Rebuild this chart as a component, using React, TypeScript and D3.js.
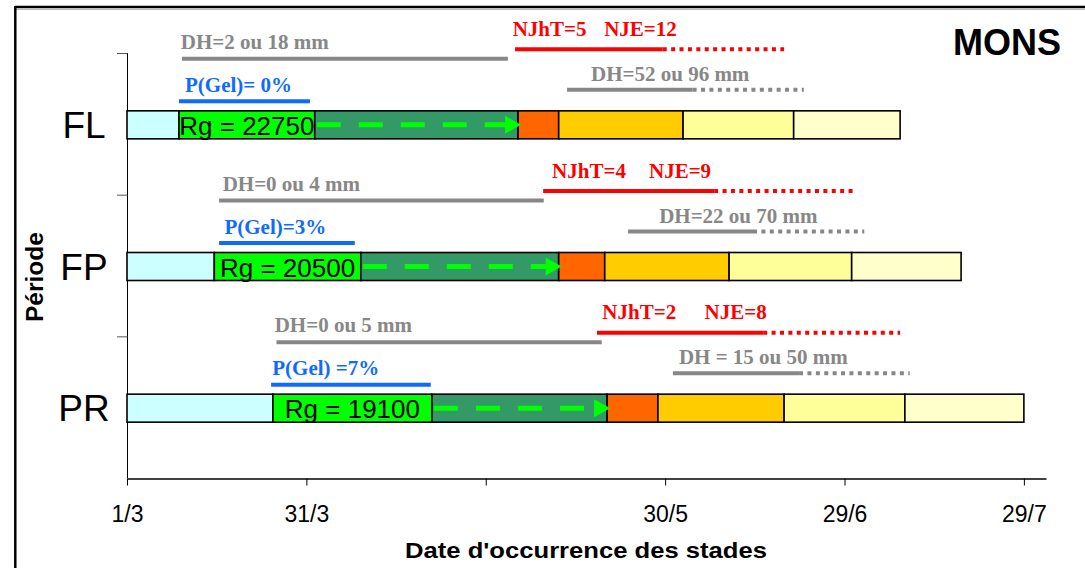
import React, { useEffect, useRef } from 'react';
import * as d3 from 'd3';

// days counted from 1 March
const periods = ['FL', 'FP', 'PR'];
const stageBounds = [
  [0, 8.7, 31.4, 65.4, 72.2, 93.0, 111.5, 129.3],
  [0, 14.6, 39.1, 72.2, 79.9, 100.7, 121.2, 139.5],
  [0, 24.4, 51.0, 80.3, 88.8, 109.9, 130.1, 150],
];
const stageColors = ['#CCFFFF', '#00FF00', '#339966', '#FF6600', '#FFCC00', '#FFFF99', '#FFFFCC'];
const rgValues = [22750, 20500, 19100];

const dh1Labels = ['DH=2 ou 18 mm', 'DH=0 ou 4 mm', 'DH=0 ou 5 mm'];
const dh1Spans = [[9.2, 63.7], [15.4, 69.7], [25.0, 79.4]];
const dh1LabelDay = [9.0, 16.0, 24.7];

const pGelLabels = ['P(Gel)= 0%', 'P(Gel)=3%', 'P(Gel) =7%'];
const pGelSpans = [[8.7, 30.6], [15.4, 38.1], [24.1, 50.8]];
const pGelLabelDay = [9.7, 16.3, 24.3];

const njhtLabels = ['NJhT=5', 'NJhT=4', 'NJhT=2'];
const njeLabels = ['NJE=12', 'NJE=9', 'NJE=8'];
const njSpans = [[64.9, 89.6, 109.9], [69.6, 98.2, 121.7], [78.6, 106.4, 129.3]];
const njhtLabelDay = [64.5, 71.1, 79.5];
const njeLabelDay = [79.8, 87.3, 96.6];

const dh2Labels = ['DH=52 ou 96 mm', 'DH=22 ou 70 mm', 'DH = 15 ou 50 mm'];
const dh2Spans = [[73.6, 94.6, 113.2], [83.8, 104.7, 123.3], [91.3, 112.4, 130.9]];
const dh2LabelDay = [77.6, 89.0, 92.3];

const tickDays = [0, 30, 60, 90, 120, 150];
const tickLabels = ['1/3', '31/3', '', '30/5', '29/6', '29/7'];

const W = 1085;
const H = 568;
const SERIF = '"Liberation Serif", "Times New Roman", serif';
const SANS = '"Liberation Sans", Arial, sans-serif';
const GRAY = '#878787';
const BLUE = '#0F6BFF';
const RED = '#FF0000';

export default function App() {
  const svgRef = useRef<SVGSVGElement>(null);

  useEffect(() => {
    if (!svgRef.current) return;
    const svg = d3.select(svgRef.current);
    svg.selectAll('*').remove();

    const x = d3.scaleLinear().domain([0, 153.7]).range([127, 1046]);
    const y = d3.scaleBand<string>().domain(periods).range([53, 478]).padding(0);
    const barH = 28;
    const cy = (p: string) => (y(p) as number) + y.bandwidth() / 2 + 1;

    svg.append('rect').attr('width', W).attr('height', H).attr('fill', '#fff');

    // outer frame
    svg.append('line').attr('x1', 15).attr('x2', W).attr('y1', 7).attr('y2', 7)
      .attr('stroke', '#000').attr('stroke-width', 2.5);
    svg.append('line').attr('x1', 15).attr('x2', W).attr('y1', 9.5).attr('y2', 9.5)
      .attr('stroke', '#bbb').attr('stroke-width', 1);
    svg.append('line').attr('x1', 15.3).attr('x2', 15.3).attr('y1', 6).attr('y2', H)
      .attr('stroke', '#000').attr('stroke-width', 2.5);

    // y axis
    svg.append('line').attr('x1', 127.5).attr('x2', 127.5).attr('y1', 53).attr('y2', 478)
      .attr('stroke', '#000').attr('stroke-width', 1);
    periods.forEach(p => {
      const yy = (y(p) as number) + 0.5;
      svg.append('line').attr('x1', 117).attr('x2', 127.5).attr('y1', yy).attr('y2', yy)
        .attr('stroke', '#555').attr('stroke-width', 1);
    });

    // x axis
    const ax = svg.append('g').attr('transform', 'translate(0,478.5)')
      .call(d3.axisBottom(x).tickValues(tickDays)
        .tickFormat((d, i) => tickLabels[i]).tickSize(7).tickSizeOuter(0).tickPadding(20));
    ax.select('.domain').attr('stroke', '#000').attr('stroke-width', 1.5);
    ax.selectAll('.tick line').attr('stroke', '#000');
    ax.selectAll('.tick text').attr('font-family', SANS).attr('font-size', 23).attr('fill', '#000');

    svg.append('text').attr('x', 586).attr('y', 558).attr('text-anchor', 'middle')
      .attr('font-family', SANS).attr('font-weight', 'bold').attr('font-size', 22)
      .attr('textLength', 362).attr('lengthAdjust', 'spacingAndGlyphs')
      .text("Date d'occurrence des stades");

    svg.append('text').attr('transform', 'translate(43,277) rotate(-90)').attr('text-anchor', 'middle')
      .attr('font-family', SANS).attr('font-weight', 'bold').attr('font-size', 23)
      .attr('textLength', 90).attr('lengthAdjust', 'spacingAndGlyphs')
      .text('Période');

    svg.append('text').attr('x', 1061).attr('y', 55).attr('text-anchor', 'end')
      .attr('font-family', SANS).attr('font-weight', 'bold').attr('font-size', 36)
      .text('MONS');

    periods.forEach((p, i) => {
      const c = cy(p);
      const g = svg.append('g');

      // period label
      g.append('text').attr('x', 84).attr('y', c + 13).attr('text-anchor', 'middle')
        .attr('font-family', SANS).attr('font-size', 37).text(p);

      // stage bar
      const b = stageBounds[i];
      g.selectAll('rect.stage')
        .data(d3.pairs(b))
        .join('rect')
        .attr('class', 'stage')
        .attr('x', d => x(d[0]))
        .attr('y', c - barH / 2)
        .attr('width', d => x(d[1]) - x(d[0]))
        .attr('height', barH)
        .attr('fill', (d, k) => stageColors[k])
        .attr('stroke', '#000')
        .attr('stroke-width', 1.6);

      g.append('text')
        .attr('x', (x(b[1]) + x(b[2])) / 2).attr('y', c + 10)
        .attr('text-anchor', 'middle').attr('font-family', SANS).attr('font-size', 26)
        .text(`Rg = ${rgValues[i]}`);

      // dashed green arrow
      const ax0 = x(b[2]) + 2;
      const tip = x(b[3]) + 3;
      g.append('line').attr('x1', ax0).attr('x2', tip - 15).attr('y1', c).attr('y2', c)
        .attr('stroke', '#00FF00').attr('stroke-width', 5).attr('stroke-dasharray', '24 18');
      g.append('path')
        .attr('d', `M${tip},${c} L${tip - 16},${c - 9} L${tip - 16},${c + 9} Z`)
        .attr('fill', '#00FF00');

      // annotations
      const hline = (x1: number, x2: number, yy: number, color: string, dotted = false) =>
        g.append('line').attr('x1', x(x1)).attr('x2', x(x2)).attr('y1', yy).attr('y2', yy)
          .attr('stroke', color).attr('stroke-width', 4)
          .attr('stroke-dasharray', dotted ? '4 4.4' : null);
      const label = (day: number, yy: number, color: string, txt: string) =>
        g.append('text').attr('x', x(day)).attr('y', yy).attr('fill', color)
          .attr('font-family', SERIF).attr('font-weight', 'bold').attr('font-size', 21)
          .text(txt);

      // red NJhT / NJE
      hline(njSpans[i][0], njSpans[i][1], c - 75.5, RED);
      hline(njSpans[i][1], njSpans[i][2], c - 75.5, RED, true);
      label(njhtLabelDay[i], c - 89, RED, njhtLabels[i]);
      label(njeLabelDay[i], c - 89, RED, njeLabels[i]);

      // first gray DH
      hline(dh1Spans[i][0], dh1Spans[i][1], c - 66, GRAY);
      label(dh1LabelDay[i], c - 76, GRAY, dh1Labels[i]);

      // second gray DH
      hline(dh2Spans[i][0], dh2Spans[i][1], c - 35, GRAY);
      hline(dh2Spans[i][1], dh2Spans[i][2], c - 35, GRAY, true);
      label(dh2LabelDay[i], c - 44, GRAY, dh2Labels[i]);

      // blue P(Gel)
      hline(pGelSpans[i][0], pGelSpans[i][1], c - 23.5, BLUE);
      label(pGelLabelDay[i], c - 33, BLUE, pGelLabels[i]);
    });
  }, []);

  return (
    <svg
      ref={svgRef}
      width={W}
      height={H}
      style={{ position: 'absolute', left: 0, top: 0, display: 'block' }}
    />
  );
}
